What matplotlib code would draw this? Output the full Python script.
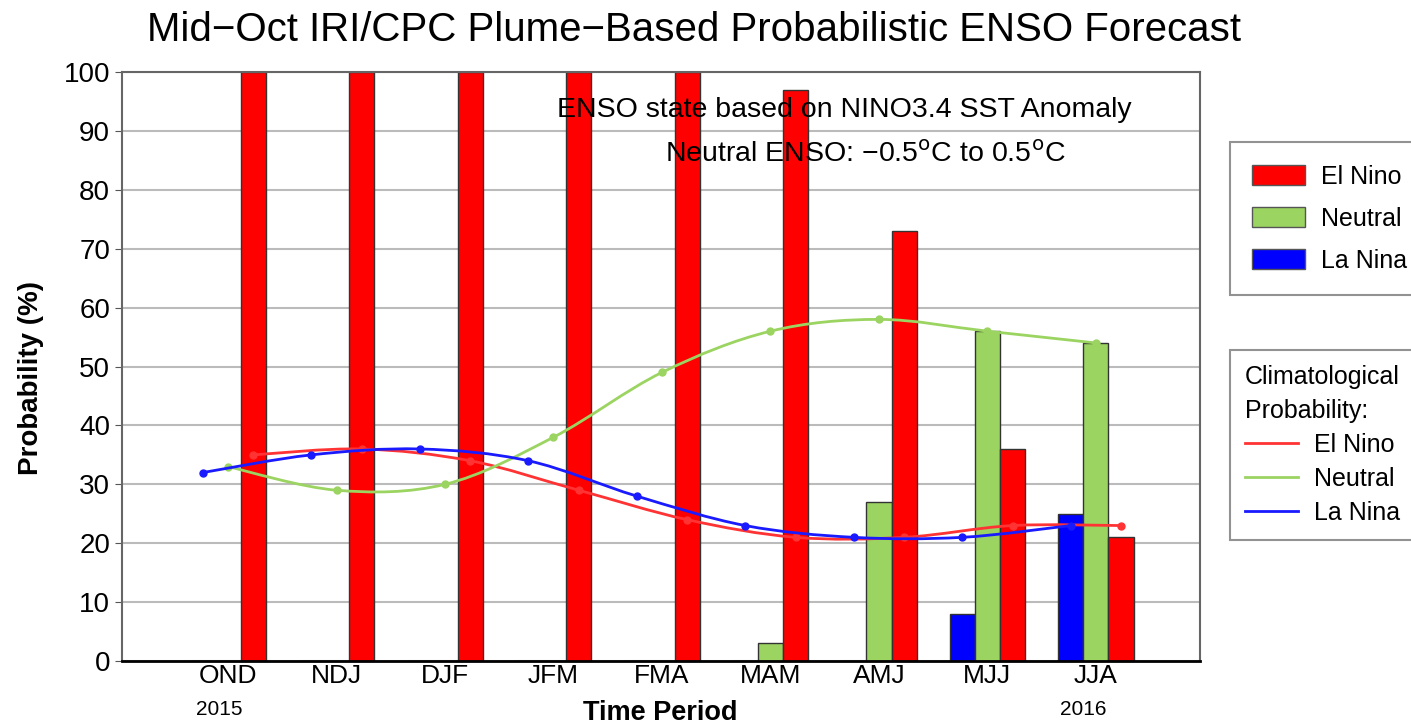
import matplotlib
matplotlib.use("Agg")
import matplotlib.pyplot as plt
import numpy as np
from matplotlib.path import Path
from matplotlib.patches import PathPatch, Patch
from matplotlib.lines import Line2D
import matplotlib.transforms as mtransforms

plt.rcParams['font.family'] = ['Liberation Sans', 'DejaVu Sans']

# data
periods = ['OND', 'NDJ', 'DJF', 'JFM', 'FMA', 'MAM', 'AMJ', 'MJJ', 'JJA']
elnino = [100, 100, 100, 100, 100, 97, 73, 36, 21]
neutral = [0, 0, 0, 0, 0, 3, 27, 56, 54]
lanina = [0, 0, 0, 0, 0, 0, 0, 8, 25]
clim_elnino = [35, 36, 34, 29, 24, 21, 21, 23, 23]
clim_neutral = [33, 29, 30, 38, 49, 56, 58, 56, 54]
clim_lanina = [32, 35, 36, 34, 28, 23, 21, 21, 23]

c_red = '#ff0000'
c_green = '#9bd461'
c_blue = '#0000ff'

fig = plt.figure(figsize=(14.11, 7.26), dpi=100)
ax = fig.add_axes([0.0865, 0.0895, 0.764, 0.8113])

x = np.arange(len(periods))
w = 0.232
ax.bar(x - w, lanina, w, color=c_blue, edgecolor='#333333', linewidth=1, zorder=2)
ax.bar(x, neutral, w, color=c_green, edgecolor='#333333', linewidth=1, zorder=2)
ax.bar(x + w, elnino, w, color=c_red, edgecolor='#333333', linewidth=1, zorder=2)


def smooth_line(ax, xs, ys, color, zo):
    # catmull-rom drawn as bezier path
    pts = np.column_stack([xs, ys]).astype(float)
    ext = np.vstack([pts[0], pts, pts[-1]])
    verts = [pts[0]]
    codes = [Path.MOVETO]
    for i in range(len(pts) - 1):
        p0, p1, p2, p3 = ext[i], ext[i + 1], ext[i + 2], ext[i + 3]
        verts += [p1 + (p2 - p0) / 6, p2 - (p3 - p1) / 6, p2]
        codes += [Path.CURVE4] * 3
    ax.add_patch(PathPatch(Path(verts, codes), facecolor='none', edgecolor=color,
                           linewidth=2, zorder=zo))
    ax.plot(xs, ys, 'o', color=color, markersize=5, zorder=zo)


smooth_line(ax, x + w, clim_elnino, '#ff3333', 3)
smooth_line(ax, x, clim_neutral, '#9bd461', 4)
smooth_line(ax, x - w, clim_lanina, '#1a1aff', 5)

ax.set_xlim(-0.977, 8.96)
ax.set_ylim(0, 100)
ax.set_yticks(np.arange(0, 101, 10))
ax.set_xticks(x)
ax.set_xticklabels(periods)
ax.yaxis.grid(True, color='#bbbbbb', linewidth=1.5, zorder=0)
ax.set_axisbelow(True)
ax.tick_params(axis='x', length=0, labelsize=19, pad=2.5)
ax.tick_params(axis='y', length=5, labelsize=20, color='#555555')
for s in ['top', 'right', 'left']:
    ax.spines[s].set_color('#666666')
    ax.spines[s].set_linewidth(1.5)
ax.spines['bottom'].set_color('black')
ax.spines['bottom'].set_linewidth(2)

trans = mtransforms.blended_transform_factory(ax.transData, fig.transFigure)
ax.text(x[0] - 0.08, 0.023, '2015', transform=trans, ha='center', va='center', fontsize=15)
ax.text(x[-1] - 0.12, 0.023, '2016', transform=trans, ha='center', va='center', fontsize=15)

ax.set_ylabel('Probability (%)', fontsize=20, fontweight='bold', labelpad=8)
ax.yaxis.set_label_coords(-0.072, 0.48)
fig.text(0.468, 0.0, 'Time Period', ha='center', va='bottom', fontsize=19.5, fontweight='bold')
fig.text(0.492, 0.958, 'Mid\u2212Oct IRI/CPC Plume\u2212Based Probabilistic ENSO Forecast',
         ha='center', va='center', fontsize=29)

ax.text(0.67, 0.935, 'ENSO state based on NINO3.4 SST Anomaly', transform=ax.transAxes,
        ha='center', va='center', fontsize=20.5)
ax.text(0.689, 0.860, 'Neutral ENSO: \u22120.5$^{\\mathrm{o}}$C to 0.5$^{\\mathrm{o}}$C',
        transform=ax.transAxes, ha='center', va='center', fontsize=20.5)

h1 = [Patch(facecolor=c_red, edgecolor='#555555', label='El Nino'),
      Patch(facecolor=c_green, edgecolor='#555555', label='Neutral'),
      Patch(facecolor=c_blue, edgecolor='#555555', label='La Nina')]
leg1 = fig.legend(handles=h1, loc='upper left', bbox_to_anchor=(0.8717, 0.8044), fontsize=18,
                  frameon=True, fancybox=False, edgecolor='#777777', handlelength=2.12,
                  handleheight=0.88, labelspacing=0.72, borderpad=0.9, handletextpad=0.64,
                  borderaxespad=0)
leg1.get_frame().set_linewidth(1.5)

h2 = [Line2D([], [], color='#ff3333', linewidth=2, label='El Nino'),
      Line2D([], [], color='#9bd461', linewidth=2, label='Neutral'),
      Line2D([], [], color='#1a1aff', linewidth=2, label='La Nina')]
leg2 = fig.legend(handles=h2, loc='upper left', bbox_to_anchor=(0.8717, 0.5179), fontsize=18,
                  title='Climatological\nProbability:', title_fontsize=18,
                  frameon=True, fancybox=False, edgecolor='#777777', handlelength=2.12,
                  labelspacing=0.4, borderpad=0.6, handletextpad=0.64, borderaxespad=0)
leg2._legend_box.align = 'left'
leg2.get_title().set_linespacing(1.5)
leg2.get_frame().set_linewidth(1.5)

fig.savefig('out.png', dpi=100, facecolor='white')
